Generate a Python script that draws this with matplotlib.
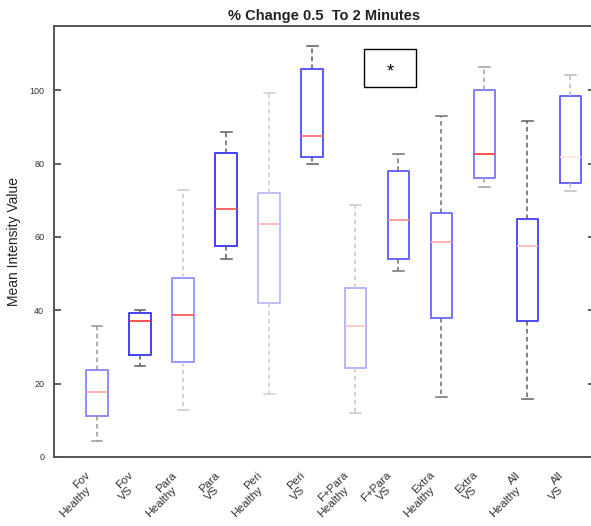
import matplotlib
matplotlib.use("Agg")
import matplotlib.pyplot as plt
import matplotlib.transforms as mtransforms
from matplotlib.patches import Rectangle

plt.rcParams['font.family'] = ['Liberation Sans', 'DejaVu Sans']

# Group labels (shown on two lines each)
groups = ["Fov\nHealthy", "Fov\nVS", "Para\nHealthy", "Para\nVS",
          "Peri\nHealthy", "Peri\nVS", "F+Para\nHealthy", "F+Para\nVS",
          "Extra\nHealthy", "Extra\nVS", "All\nHealthy", "All\nVS"]

# Box summary statistics per group
whisker_low = [4.4, 24.7, 12.8, 54.1, 17.2, 80.0, 12.1, 50.8, 16.3, 73.7, 15.8, 72.6]
quart_1     = [11.3, 27.8, 25.8, 57.5, 42.1, 81.9, 24.2, 54.1, 37.9, 76.0, 37.1, 74.6]
medians     = [17.7, 37.1, 38.7, 67.5, 63.6, 87.5, 35.7, 64.5, 58.6, 82.5, 57.6, 81.7]
quart_3     = [23.7, 39.2, 48.7, 83.0, 72.1, 105.7, 46.2, 78.0, 66.5, 100.0, 65.0, 98.4]
whisker_high = [35.7, 40.0, 72.9, 88.5, 99.3, 112.0, 68.7, 82.5, 92.9, 106.4, 91.6, 104.1]

yticks = [0, 20, 40, 60, 80, 100]

# Per-box line strength (0 = invisible, 1 = full colour)
box_ink = [0.45, 0.75, 0.4, 0.75, 0.25, 0.65, 0.3, 0.6, 0.55, 0.5, 0.7, 0.6]
med_ink = [0.35, 0.8, 0.7, 0.7, 0.3, 0.6, 0.25, 0.45, 0.35, 0.8, 0.3, 0.12]
whisk_ink = [0.55, 0.85, 0.3, 0.85, 0.25, 0.85, 0.3, 0.75, 0.75, 0.5, 0.85, 0.35]


def tint(rgb, k):
    return tuple(1 - k * (1 - c) for c in rgb)


fig = plt.figure(figsize=(5.91, 5.26), dpi=100)
ax = fig.add_axes([54 / 591, 1 - 457 / 526, (595 - 54) / 591, (457 - 26) / 526])

stats = []
for i, g in enumerate(groups):
    stats.append(dict(label=g, med=medians[i], q1=quart_1[i], q3=quart_3[i],
                      whislo=whisker_low[i], whishi=whisker_high[i], fliers=[]))

positions = list(range(1, len(groups) + 1))
art = ax.bxp(stats, positions=positions, widths=0.5, capwidths=0.25,
             showfliers=False, patch_artist=False,
             boxprops=dict(linewidth=1.4),
             medianprops=dict(linewidth=1.2),
             whiskerprops=dict(linewidth=1.1, linestyle=(0, (3, 2.2))),
             capprops=dict(linewidth=1.1))

blue = (0.0, 0.0, 1.0)
red = (1.0, 0.0, 0.0)
gray = (0.25, 0.25, 0.25)
for i in range(len(groups)):
    art['boxes'][i].set_color(tint(blue, box_ink[i]))
    art['medians'][i].set_color(tint(red, med_ink[i]))
    for w in art['whiskers'][2 * i:2 * i + 2]:
        w.set_color(tint(gray, whisk_ink[i]))
    for c in art['caps'][2 * i:2 * i + 2]:
        c.set_color(tint(gray, whisk_ink[i]))

ax.set_xlim(0, 12.57)
ax.set_ylim(0, 117.5)
ax.set_yticks(yticks)
ax.set_yticklabels([str(v) for v in yticks], fontsize=6.5, color='#333333')
ax.tick_params(axis='y', direction='in', length=5, width=1.2, color='#444444',
               right=True, pad=7)

# Rotated group labels: each line right-aligned under its box, stacked downward
ax.set_xticks(positions)
ax.set_xticklabels([])
ax.tick_params(axis='x', length=0)
xtrans = ax.get_xaxis_transform()
for p, g in zip(positions, groups):
    for k, line in enumerate(g.split("\n")):
        off = mtransforms.ScaledTranslation(-5 / 100, -(13 + 14.5 * k) / 100,
                                            fig.dpi_scale_trans)
        ax.text(p, 0, line, transform=xtrans + off, rotation=45,
                ha='right', va='top', fontsize=8.2, color='#333333')

for s in ax.spines.values():
    s.set_color('#555555')
    s.set_linewidth(1.4)

ax.set_ylabel("Mean Intensity Value", fontsize=10, color='#222222')
ax.yaxis.set_label_coords(-33 / 541, 0.5)

ax.set_title("% Change 0.5  To 2 Minutes", fontsize=10.5, fontweight='bold',
             color='#222222', pad=4)

# Significance marker
fig.add_artist(Rectangle((364 / 591, 1 - 87 / 526), 52 / 591, 38 / 526,
                         transform=fig.transFigure, fill=False,
                         edgecolor='black', linewidth=1.0))
fig.text(390 / 591, 1 - 72 / 526, "*", ha='center', va='center',
         fontsize=13, color='black')

fig.savefig("out.png", dpi=100)
